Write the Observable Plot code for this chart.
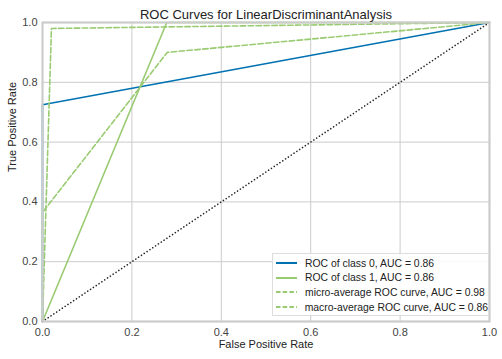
<!DOCTYPE html>
<html><head><meta charset="utf-8">
<script src="https://cdn.jsdelivr.net/npm/d3@7"></script>
<script src="https://cdn.jsdelivr.net/npm/@observablehq/plot@0.6"></script>
<style>
body{margin:0;background:#fff;font-family:"Liberation Sans",Arial,sans-serif;}
#wrap{position:relative;width:502px;height:359px;}
#legend{position:absolute;left:272px;top:253px;width:217px;height:63px;border:1px solid #dddddd;background:rgba(255,255,255,0.85);box-sizing:border-box;font-size:10.4px;color:#222;white-space:nowrap;}
.row{display:flex;align-items:center;height:14.6px;margin-left:3px;}
.row:first-child{margin-top:2px;}
.sw{width:21px;margin-right:8px;}
</style></head><body><div id="wrap"></div>
<script>
const title = "ROC Curves for LinearDiscriminantAnalysis";
const xLabel = "False Positive Rate";
const yLabel = "True Positive Rate";
const ticks = [0, 0.2, 0.4, 0.6, 0.8, 1.0];

const class0Fpr = [0, 0, 1];
const class0Tpr = [0, 0.725, 1];
const class1Fpr = [0, 0.278, 1];
const class1Tpr = [0, 1, 1];
const microFpr = [0, 0.02, 1];
const microTpr = [0, 0.98, 1];
const macroFpr = [0, 0, 0.279, 1];
const macroTpr = [0, 0.365, 0.9, 1];
const diagFpr = [0, 1];
const diagTpr = [0, 1];

const seriesNames = ["ROC of class 0, AUC = 0.86", "ROC of class 1, AUC = 0.86",
  "micro-average ROC curve, AUC = 0.98", "macro-average ROC curve, AUC = 0.86"];
const seriesColors = ["#0072B2", "#9ACB72", "#9ACB72", "#9ACB72"];
const seriesDash = [null, null, "5.5,2.4", "5.5,2.4"];

const pts = (xs, ys) => xs.map((x, i) => ({x, y: ys[i]}));
const series = [pts(class0Fpr, class0Tpr), pts(class1Fpr, class1Tpr), pts(microFpr, microTpr), pts(macroFpr, macroTpr)];

const marks = [
  Plot.gridX(ticks, {stroke: "#cccccc", strokeOpacity: 1, strokeWidth: 1}),
  Plot.gridY(ticks, {stroke: "#cccccc", strokeOpacity: 1, strokeWidth: 1}),
];
series.forEach((d, i) => marks.push(Plot.line(d, {x: "x", y: "y", stroke: seriesColors[i], strokeWidth: 1.6,
  strokeDasharray: seriesDash[i] || undefined})));
marks.push(Plot.line(pts(diagFpr, diagTpr), {x: "x", y: "y", stroke: "#222", strokeWidth: 1.6, strokeDasharray: "0.1,3.3", strokeLinecap: "round"}));
marks.push(Plot.frame({stroke: "#cccccc", strokeWidth: 2.2}));
marks.push(Plot.axisX(ticks, {tickSize: 0, tickPadding: 7, tickFormat: d3.format(".1f"), fontSize: 11, fill: "#444", label: null}));
marks.push(Plot.axisY(ticks, {tickSize: 0, tickPadding: 5, tickFormat: d3.format(".1f"), fontSize: 11, fill: "#444", label: null}));
marks.push(Plot.text([title], {text: d => d, frameAnchor: "top", dy: -13, fontSize: 13, fill: "#222"}));
marks.push(Plot.text([xLabel], {text: d => d, frameAnchor: "bottom", dy: 26, fontSize: 11, fill: "#222"}));
marks.push(Plot.text([yLabel], {text: d => d, frameAnchor: "left", dx: -30, rotate: -90, fontSize: 11, fill: "#222"}));

const chart = Plot.plot({
  width: 502, height: 359,
  marginTop: 22, marginBottom: 38, marginLeft: 42, marginRight: 13,
  style: {fontFamily: "'Liberation Sans', Arial, sans-serif", background: "#fff"},
  x: {domain: [0, 1]},
  y: {domain: [0, 1]},
  marks
});
const wrap = document.getElementById("wrap");
wrap.appendChild(chart);

const leg = document.createElement("div");
leg.id = "legend";
seriesNames.forEach((name, i) => {
  const row = document.createElement("div");
  row.className = "row";
  const dash = seriesDash[i] ? `stroke-dasharray="4.5,2.2"` : "";
  row.innerHTML = `<svg class="sw" width="21" height="6"><line x1="0" y1="3" x2="21" y2="3" stroke="${seriesColors[i]}" stroke-width="2" ${dash}/></svg><span>${name}</span>`;
  leg.appendChild(row);
});
wrap.appendChild(leg);
</script></body></html>
